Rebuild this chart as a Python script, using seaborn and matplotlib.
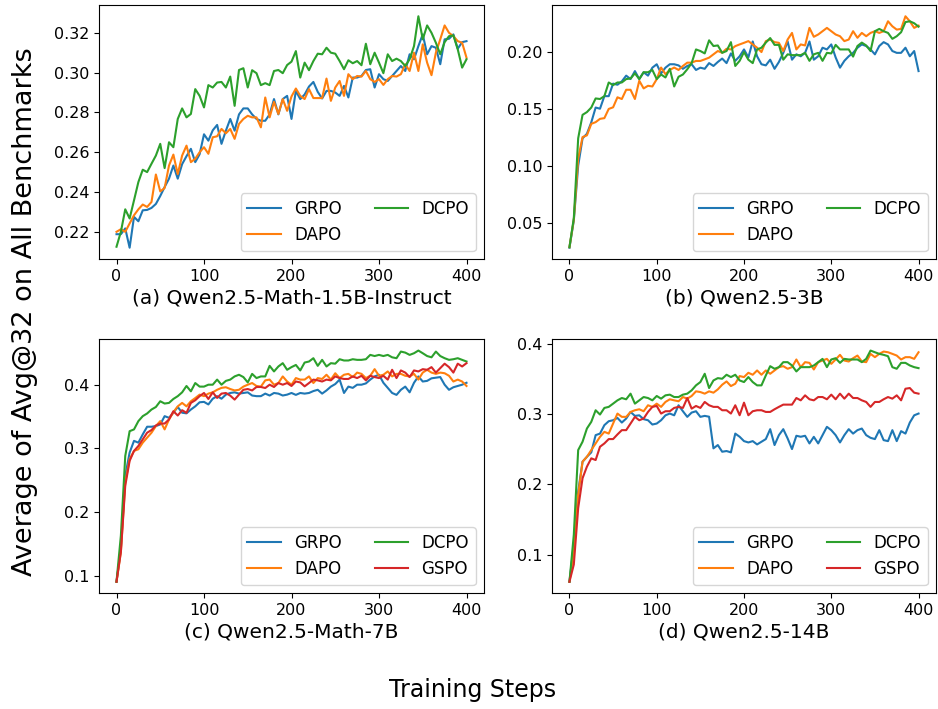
import numpy as np
import pandas as pd
import matplotlib
matplotlib.use("Agg")
import matplotlib.pyplot as plt
import seaborn as sns

steps = list(range(0, 401, 5))
methods = ["GRPO", "DAPO", "DCPO", "GSPO"]
colors = {"GRPO": "#1f77b4", "DAPO": "#ff7f0e", "DCPO": "#2ca02c", "GSPO": "#d62728"}

titles = ["(a) Qwen2.5-Math-1.5B-Instruct", "(b) Qwen2.5-3B",
          "(c) Qwen2.5-Math-7B", "(d) Qwen2.5-14B"]

# ---- (a) Qwen2.5-Math-1.5B-Instruct ----
a_grpo = [0.2188, 0.2188, 0.2217, 0.212, 0.2275, 0.2253, 0.2308, 0.231, 0.232, 0.234,
          0.238, 0.2425, 0.2467, 0.2533, 0.2467, 0.254, 0.258, 0.2617, 0.255, 0.259,
          0.269, 0.2658, 0.271, 0.2737, 0.2642, 0.2708, 0.2767, 0.2708, 0.279, 0.282,
          0.282, 0.279, 0.2767, 0.2758, 0.2758, 0.279, 0.2867, 0.279, 0.2867, 0.2883,
          0.2767, 0.2908, 0.2867, 0.289, 0.293, 0.2953, 0.2903, 0.287, 0.2908, 0.2908,
          0.29, 0.2883, 0.2933, 0.2875, 0.2975, 0.2975, 0.2983, 0.3013, 0.3017, 0.2925,
          0.2992, 0.2967, 0.2958, 0.2983, 0.3008, 0.3033, 0.3008, 0.3092, 0.3067, 0.3133,
          0.3192, 0.3092, 0.3133, 0.3125, 0.3042, 0.3167, 0.317, 0.3192, 0.312, 0.3153,
          0.3158]
a_dapo = [0.22, 0.2213, 0.22, 0.2242, 0.2283, 0.2313, 0.2337, 0.2325, 0.235, 0.2488,
          0.2403, 0.242, 0.2533, 0.2588, 0.249, 0.2583, 0.2633, 0.255, 0.2567, 0.26,
          0.2625, 0.2592, 0.2675, 0.268, 0.2717, 0.2695, 0.2717, 0.2667, 0.2742, 0.2767,
          0.2783, 0.2775, 0.2775, 0.2725, 0.2875, 0.2775, 0.2853, 0.2792, 0.2867, 0.2808,
          0.288, 0.292, 0.2883, 0.2867, 0.2917, 0.2872, 0.2872, 0.2872, 0.297, 0.2858,
          0.2925, 0.2958, 0.2883, 0.2992, 0.2967, 0.2983, 0.298, 0.3008, 0.2967, 0.2953,
          0.2967, 0.2938, 0.2967, 0.2983, 0.298, 0.2992, 0.3042, 0.3008, 0.31, 0.3008,
          0.3142, 0.305, 0.2987, 0.31, 0.3167, 0.3237, 0.32, 0.3183, 0.3158, 0.315,
          0.3075]
a_dcpo = [0.2125, 0.22, 0.2313, 0.2267, 0.2358, 0.245, 0.2512, 0.25, 0.2542, 0.2583,
          0.2642, 0.252, 0.265, 0.2625, 0.2767, 0.282, 0.2775, 0.2792, 0.2917, 0.2883,
          0.2825, 0.2937, 0.2925, 0.295, 0.2953, 0.2925, 0.298, 0.2833, 0.3013, 0.3022,
          0.2925, 0.3012, 0.2997, 0.2937, 0.2947, 0.2937, 0.3008, 0.3013, 0.2997, 0.3038,
          0.3055, 0.3108, 0.2975, 0.305, 0.3012, 0.3058, 0.3095, 0.3092, 0.3125, 0.31,
          0.3095, 0.3058, 0.3017, 0.3062, 0.3047, 0.3058, 0.3037, 0.3145, 0.3042, 0.31,
          0.305, 0.2997, 0.3092, 0.3058, 0.307, 0.3058, 0.3033, 0.3067, 0.3133, 0.3283,
          0.3167, 0.3237, 0.32, 0.315, 0.3092, 0.3153, 0.3183, 0.3187, 0.3117, 0.3025,
          0.3067]

# ---- (b) Qwen2.5-3B ----
b_grpo = [0.028, 0.052, 0.100, 0.124, 0.128, 0.138, 0.151, 0.150, 0.161, 0.161,
          0.172, 0.171, 0.174, 0.179, 0.176, 0.183, 0.176, 0.182, 0.179, 0.186,
          0.189, 0.181, 0.186, 0.189, 0.189, 0.188, 0.185, 0.1875, 0.189, 0.184,
          0.186, 0.185, 0.190, 0.1875, 0.191, 0.194, 0.190, 0.1985, 0.192, 0.196,
          0.202, 0.195, 0.209, 0.196, 0.189, 0.188, 0.193, 0.185, 0.191, 0.199,
          0.209, 0.193, 0.1977, 0.196, 0.199, 0.209, 0.193, 0.196, 0.2035, 0.202,
          0.2064, 0.195, 0.186, 0.192, 0.196, 0.199, 0.2035, 0.2064, 0.205, 0.202,
          0.1977, 0.205, 0.2084, 0.2064, 0.2006, 0.199, 0.199, 0.2035, 0.196, 0.2006,
          0.183]
b_dapo = [0.0285, 0.0526, 0.1063, 0.1251, 0.1266, 0.1367, 0.1382, 0.1411, 0.1417, 0.1498,
          0.1512, 0.1600, 0.1585, 0.1666, 0.1666, 0.1585, 0.1745, 0.1678, 0.1701, 0.1695,
          0.1759, 0.1861, 0.1803, 0.1840, 0.1861, 0.1840, 0.1875, 0.1904, 0.1904, 0.1919,
          0.1919, 0.1933, 0.1948, 0.1977, 0.2006, 0.1991, 0.2026, 0.2020, 0.2049, 0.2064,
          0.2078, 0.2093, 0.2064, 0.2035, 0.1997, 0.2093, 0.2107, 0.2084, 0.2078, 0.2006,
          0.2107, 0.2165, 0.2020, 0.2064, 0.2055, 0.2209, 0.2131, 0.2151, 0.2180, 0.2209,
          0.2180, 0.2151, 0.2136, 0.2093, 0.2107, 0.2180, 0.2122, 0.2165, 0.2136, 0.2165,
          0.2180, 0.2165, 0.2180, 0.2267, 0.2223, 0.2194, 0.2200, 0.2311, 0.2267, 0.2209,
          0.2229]
b_dcpo = [0.0285, 0.054, 0.124, 0.1446, 0.147, 0.151, 0.159, 0.1585, 0.161, 0.173,
          0.1707, 0.173, 0.173, 0.176, 0.1765, 0.181, 0.176, 0.182, 0.182, 0.184,
          0.176, 0.180, 0.1774, 0.185, 0.1695, 0.178, 0.180, 0.1846, 0.190, 0.202,
          0.2006, 0.1985, 0.210, 0.205, 0.2055, 0.199, 0.2006, 0.2084, 0.1875, 0.192,
          0.1997, 0.193, 0.190, 0.202, 0.2035, 0.208, 0.212, 0.206, 0.206, 0.193,
          0.1977, 0.197, 0.197, 0.197, 0.199, 0.192, 0.1977, 0.199, 0.192, 0.199,
          0.1985, 0.206, 0.202, 0.202, 0.202, 0.1957, 0.205, 0.208, 0.2055, 0.2006,
          0.218, 0.22, 0.218, 0.2165, 0.2113, 0.2136, 0.2171, 0.226, 0.2267, 0.225,
          0.222]

# ---- (c) Qwen2.5-Math-7B ----
c_grpo = [0.0906, 0.1426, 0.257, 0.2934, 0.3118, 0.309, 0.322, 0.334, 0.334, 0.335,
          0.3376, 0.3506, 0.348, 0.356, 0.365, 0.356, 0.355, 0.361, 0.366, 0.3724,
          0.373, 0.369, 0.378, 0.382, 0.378, 0.3844, 0.387, 0.388, 0.386, 0.387,
          0.388, 0.383, 0.382, 0.382, 0.386, 0.383, 0.387, 0.386, 0.383, 0.3844,
          0.387, 0.384, 0.387, 0.386, 0.387, 0.390, 0.392, 0.386, 0.391, 0.397,
          0.401, 0.408, 0.387, 0.397, 0.395, 0.400, 0.400, 0.402, 0.408, 0.413,
          0.4156, 0.403, 0.395, 0.387, 0.384, 0.392, 0.397, 0.388, 0.403, 0.413,
          0.405, 0.406, 0.410, 0.411, 0.412, 0.400, 0.392, 0.396, 0.398, 0.400,
          0.403]
c_dapo = [0.0906, 0.1374, 0.2466, 0.283, 0.296, 0.2986, 0.309, 0.3168, 0.3246, 0.335,
          0.3428, 0.3298, 0.3454, 0.3568, 0.366, 0.3714, 0.366, 0.374, 0.379, 0.3844,
          0.382, 0.386, 0.388, 0.392, 0.395, 0.396, 0.3932, 0.391, 0.392, 0.397,
          0.400, 0.4026, 0.398, 0.397, 0.4068, 0.408, 0.400, 0.4026, 0.413, 0.405,
          0.400, 0.4104, 0.408, 0.408, 0.413, 0.4026, 0.4104, 0.409, 0.4156, 0.408,
          0.418, 0.4104, 0.4156, 0.417, 0.412, 0.419, 0.417, 0.4104, 0.414, 0.4244,
          0.414, 0.4156, 0.4208, 0.413, 0.417, 0.417, 0.414, 0.413, 0.417, 0.408,
          0.419, 0.4234, 0.419, 0.417, 0.419, 0.418, 0.414, 0.405, 0.408, 0.405,
          0.398]
c_dcpo = [0.0906, 0.163, 0.288, 0.327, 0.3298, 0.3428, 0.3506, 0.3548, 0.361, 0.365,
          0.374, 0.3704, 0.3714, 0.3776, 0.382, 0.388, 0.398, 0.3896, 0.4026, 0.397,
          0.397, 0.400, 0.400, 0.408, 0.400, 0.406, 0.408, 0.413, 0.4156, 0.412,
          0.4036, 0.417, 0.4104, 0.413, 0.413, 0.4296, 0.4208, 0.4286, 0.4338, 0.4234,
          0.4276, 0.431, 0.4224, 0.4348, 0.4364, 0.4416, 0.4296, 0.439, 0.4286, 0.4338,
          0.433, 0.440, 0.438, 0.438, 0.440, 0.439, 0.439, 0.440, 0.4468, 0.445,
          0.4468, 0.445, 0.4468, 0.443, 0.4416, 0.452, 0.4504, 0.4468, 0.4494, 0.4536,
          0.4494, 0.445, 0.443, 0.452, 0.445, 0.4416, 0.439, 0.440, 0.4416, 0.439,
          0.4364]
c_gspo = [0.0906, 0.1374, 0.2414, 0.2804, 0.296, 0.3038, 0.3142, 0.3246, 0.3288, 0.336,
          0.339, 0.339, 0.3454, 0.3584, 0.3516, 0.360, 0.3558, 0.3714, 0.3756, 0.382,
          0.387, 0.3776, 0.388, 0.3792, 0.386, 0.387, 0.3828, 0.3766, 0.3844, 0.392,
          0.3932, 0.391, 0.3964, 0.3964, 0.3948, 0.400, 0.3964, 0.4026, 0.400, 0.4026,
          0.398, 0.405, 0.4036, 0.3974, 0.4026, 0.408, 0.4068, 0.405, 0.408, 0.4068,
          0.413, 0.4104, 0.409, 0.409, 0.413, 0.4104, 0.414, 0.4068, 0.414, 0.412,
          0.4104, 0.414, 0.408, 0.4234, 0.4104, 0.4224, 0.419, 0.412, 0.4224, 0.4208,
          0.4244, 0.4234, 0.4276, 0.419, 0.426, 0.433, 0.4276, 0.419, 0.433, 0.4286,
          0.4338]

# ---- (d) Qwen2.5-14B ----
d_grpo = [0.0613, 0.1142, 0.1896, 0.232, 0.239, 0.2453, 0.2698, 0.272, 0.284, 0.2896,
          0.291, 0.2943, 0.2877, 0.2934, 0.3028, 0.2972, 0.298, 0.2925, 0.291, 0.2849,
          0.2863, 0.291, 0.298, 0.3005, 0.298, 0.3123, 0.3038, 0.2958, 0.3019, 0.3038,
          0.2958, 0.2972, 0.296, 0.251, 0.2557, 0.2462, 0.2472, 0.2453, 0.272, 0.2675,
          0.2613, 0.2594, 0.2613, 0.2566, 0.2604, 0.2642, 0.2783, 0.2557, 0.2698, 0.2783,
          0.2651, 0.25, 0.2689, 0.2675, 0.2689, 0.258, 0.2674, 0.258, 0.2698, 0.2816,
          0.2769, 0.2698, 0.2594, 0.2698, 0.2783, 0.272, 0.2769, 0.2792, 0.2698, 0.266,
          0.2642, 0.2769, 0.2627, 0.2613, 0.2769, 0.2613, 0.2755, 0.272, 0.2877, 0.298,
          0.3005]
d_dapo = [0.0613, 0.1047, 0.1849, 0.232, 0.239, 0.2486, 0.258, 0.2674, 0.2745, 0.272,
          0.2863, 0.3005, 0.2958, 0.2958, 0.3028, 0.3052, 0.3066, 0.3038, 0.3123, 0.31,
          0.3146, 0.31, 0.317, 0.3208, 0.3193, 0.318, 0.324, 0.3217, 0.3255, 0.3321,
          0.3311, 0.3288, 0.3321, 0.3302, 0.3349, 0.3415, 0.3462, 0.3396, 0.3429, 0.3538,
          0.3524, 0.3585, 0.3557, 0.3618, 0.3557, 0.3618, 0.3571, 0.3618, 0.3665, 0.3679,
          0.3642, 0.3665, 0.3774, 0.3665, 0.3736, 0.3726, 0.3632, 0.3736, 0.3759, 0.3783,
          0.3712, 0.3774, 0.384, 0.3759, 0.3745, 0.3792, 0.383, 0.3745, 0.3736, 0.3854,
          0.3807, 0.3854, 0.3887, 0.3877, 0.3854, 0.383, 0.3774, 0.3807, 0.3807, 0.3783,
          0.3877]
d_dcpo = [0.0613, 0.1283, 0.2486, 0.2604, 0.2792, 0.2887, 0.3052, 0.2991, 0.3085, 0.31,
          0.3146, 0.3193, 0.3226, 0.3208, 0.3288, 0.3146, 0.3193, 0.324, 0.3226, 0.3193,
          0.3255, 0.3217, 0.3264, 0.3274, 0.324, 0.324, 0.3274, 0.3288, 0.3335, 0.3406,
          0.3453, 0.3571, 0.3368, 0.3476, 0.3509, 0.35, 0.3557, 0.3524, 0.3557, 0.3476,
          0.3453, 0.3524, 0.3453, 0.3406, 0.3406, 0.3547, 0.3679, 0.3642, 0.3665, 0.3736,
          0.3736, 0.3689, 0.3604, 0.3665, 0.3665, 0.3665, 0.3689, 0.3736, 0.3783, 0.3665,
          0.3774, 0.3792, 0.3726, 0.3783, 0.3774, 0.3774, 0.3774, 0.3736, 0.3783, 0.3901,
          0.3877, 0.3854, 0.384, 0.3821, 0.3665, 0.3642, 0.3726, 0.3726, 0.3689, 0.3665,
          0.3651]
d_gspo = [0.0613, 0.0858, 0.166, 0.2085, 0.225, 0.2368, 0.2344, 0.2533, 0.258, 0.2642,
          0.2642, 0.2708, 0.2769, 0.2769, 0.2863, 0.2958, 0.291, 0.2934, 0.3028, 0.31,
          0.3113, 0.3005, 0.3038, 0.3038, 0.3085, 0.31, 0.3085, 0.3226, 0.3075, 0.3113,
          0.3085, 0.317, 0.3123, 0.31, 0.31, 0.3052, 0.3052, 0.3005, 0.3123, 0.2981,
          0.316, 0.2981, 0.3038, 0.3052, 0.3052, 0.3028, 0.3028, 0.3066, 0.31, 0.3132,
          0.3132, 0.3132, 0.3226, 0.3193, 0.3264, 0.3208, 0.3193, 0.324, 0.324, 0.3208,
          0.3274, 0.3208, 0.3288, 0.3217, 0.3288, 0.3226, 0.3226, 0.3193, 0.317, 0.31,
          0.317, 0.317, 0.3208, 0.324, 0.3217, 0.3264, 0.3193, 0.3358, 0.3368, 0.3302,
          0.3288]

panels = [
    {"GRPO": a_grpo, "DAPO": a_dapo, "DCPO": a_dcpo},
    {"GRPO": b_grpo, "DAPO": b_dapo, "DCPO": b_dcpo},
    {"GRPO": c_grpo, "DAPO": c_dapo, "DCPO": c_dcpo, "GSPO": c_gspo},
    {"GRPO": d_grpo, "DAPO": d_dapo, "DCPO": d_dcpo, "GSPO": d_gspo},
]
yticks = [
    [0.22, 0.24, 0.26, 0.28, 0.30, 0.32],
    [0.05, 0.10, 0.15, 0.20],
    [0.1, 0.2, 0.3, 0.4],
    [0.1, 0.2, 0.3, 0.4],
]

W, H = 938, 709
fig = plt.figure(figsize=(W / 100, H / 100), dpi=100)
boxes = [(99, 4.7, 484, 259.3), (552, 4.7, 936, 259.3),
         (99, 339, 484, 593.3), (552, 339, 936, 593.3)]

for i, (series, box) in enumerate(zip(panels, boxes)):
    x0, y0, x1, y1 = box
    ax = fig.add_axes([x0 / W, 1 - y1 / H, (x1 - x0) / W, (y1 - y0) / H])
    df = pd.DataFrame({"step": steps, **series}).melt(
        id_vars="step", var_name="method", value_name="score")
    order = [m for m in methods if m in series]
    sns.lineplot(data=df, x="step", y="score", hue="method", hue_order=order,
                 palette=colors, linewidth=1.5, ax=ax, legend=True)
    ax.set_xticks([0, 100, 200, 300, 400])
    ax.set_yticks(yticks[i])
    ax.tick_params(labelsize=11.5)
    ax.set_xlabel(titles[i], fontsize=14.5, labelpad=3)
    ax.set_ylabel("")
    handles, labels = ax.get_legend_handles_labels()
    ax.legend(handles, labels, ncol=2, loc="lower right", fontsize=12,
              columnspacing=2.0)

fig.text(25 / W, 1 - 312 / H, "Average of Avg@32 on All Benchmarks",
         rotation=90, ha="center", va="center", fontsize=19.5)
fig.text(473 / W, 1 - 690 / H, "Training Steps",
         ha="center", va="center", fontsize=17)

fig.savefig("out.png", dpi=100)
